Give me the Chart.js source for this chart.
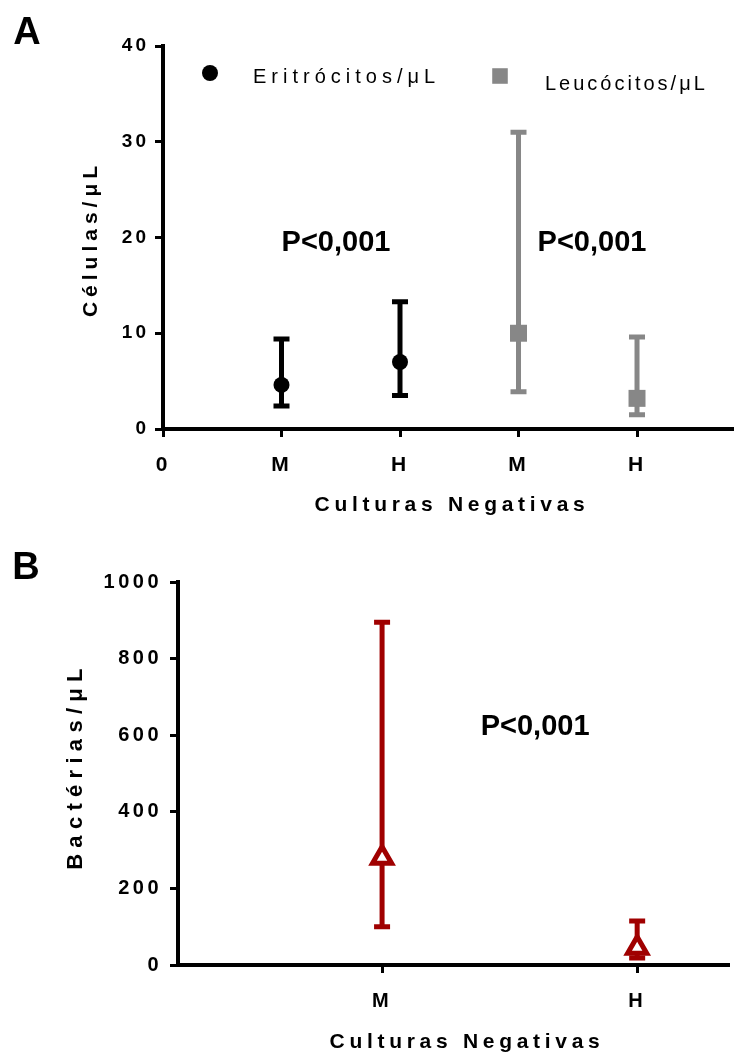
<!DOCTYPE html>
<html>
<head>
<meta charset="utf-8">
<script src="https://cdn.jsdelivr.net/npm/chart.js@4.4.1/dist/chart.umd.min.js"></script>
<style>
  html, body { margin: 0; padding: 0; background: #fff; }
  #wrap { position: relative; width: 745px; height: 1054px; }
  canvas { position: absolute; left: 0; }
  #graficoA { top: 0; }
  #graficoB { top: 535px; }
</style>
</head>
<body>
<div id="wrap">
  <canvas id="graficoA" width="745" height="535"></canvas>
  <canvas id="graficoB" width="745" height="519"></canvas>
</div>
<script>
// --- dados painel A ---
const categoriasA = ['0', 'M', 'H', 'M', 'H'];
const posEritro = [1, 2];
const eritroMedia = [4.6, 7.0];
const eritroMin = [2.4, 3.5];
const eritroMax = [9.4, 13.3];
const posLeuco = [3, 4];
const leucoMedia = [10.0, 3.2];
const leucoMin = [3.9, 1.5];
const leucoMax = [31.0, 9.6];

// --- dados painel B ---
const categoriasB = ['', 'M', 'H'];
const posBact = [1, 2];
const bactMedia = [280, 45];
const bactMin = [100, 18];
const bactMax = [895, 115];

const FONTE = "'Liberation Sans', Arial, sans-serif";
const VERMELHO = '#a00000';
const CINZA = '#878787';

Chart.defaults.color = '#000';
Chart.defaults.font.family = FONTE;

function pontos(xs, med, lo, hi) {
    return xs.map((x, i) => ({ x: x, y: med[i], lo: lo[i], hi: hi[i] }));
}

function texto(ctx, s, x, y, font, spacing, align, rot) {
    ctx.save();
    ctx.translate(x, y);
    if (rot) ctx.rotate(rot);
    ctx.font = font;
    ctx.letterSpacing = spacing + 'px';
    ctx.textAlign = align || 'center';
    ctx.textBaseline = 'middle';
    ctx.fillStyle = '#000';
    ctx.fillText(s, 0, 0);
    ctx.restore();
}

// barras de erro (min - max) desenhadas pelas escalas
const barrasErro = {
    id: 'barrasErro',
    beforeDatasetsDraw(chart) {
        const ctx = chart.ctx;
        const xs = chart.scales.x, ys = chart.scales.y;
        chart.data.datasets.forEach(ds => {
            ctx.save();
            ctx.strokeStyle = ds.corErro;
            ctx.lineWidth = ds.larguraErro;
            const cap = ds.capErro;
            ds.data.forEach(p => {
                const x = xs.getPixelForValue(p.x);
                const y1 = ys.getPixelForValue(p.lo);
                const y2 = ys.getPixelForValue(p.hi);
                ctx.beginPath();
                ctx.moveTo(x, y1); ctx.lineTo(x, y2);
                ctx.moveTo(x - cap, y1); ctx.lineTo(x + cap, y1);
                ctx.moveTo(x - cap, y2); ctx.lineTo(x + cap, y2);
                ctx.stroke();
            });
            ctx.restore();
        });
    }
};

// espacamento das letras nos ticks + textos extras
const textos = {
    id: 'textos',
    beforeDraw(chart, args, opts) {
        chart.ctx.letterSpacing = (opts.espacoTicks || 0) + 'px';
    },
    afterDraw(chart, args, opts) {
        const ctx = chart.ctx;
        const xs = chart.scales.x, ys = chart.scales.y;
        (opts.itens || []).forEach(t => {
            let x = t.x, y = t.y;
            if (t.dados) { x = xs.getPixelForValue(t.x); y = ys.getPixelForValue(t.y); }
            texto(ctx, t.s, x, y, t.font, t.sp || 0, t.align, t.rot);
        });
        (opts.legenda || []).forEach(l => {
            const ds = chart.data.datasets[l.ds];
            ctx.save();
            ctx.fillStyle = ds.backgroundColor;
            ctx.strokeStyle = ds.borderColor;
            Chart.helpers.drawPoint(ctx, { pointStyle: ds.pointStyle, radius: l.r, rotation: 0, borderWidth: 0 }, l.mx, l.my);
            ctx.restore();
            texto(ctx, ds.label, l.tx, l.ty, '20px ' + FONTE, l.sp, 'left');
        });
    }
};

function eixoX(cats, posTicks, min, max, altura, tam) {
    return {
        type: 'linear', min: min, max: max,
        afterBuildTicks: s => { s.ticks = posTicks.map(v => ({ value: v })); },
        afterFit: s => { s.height = altura; s.paddingLeft = 0; s.paddingRight = 0; },
        ticks: {
            autoSkip: false, maxRotation: 0, padding: 16,
            font: { size: tam, weight: 'bold' },
            callback: v => cats[v]
        },
        grid: { drawOnChartArea: false, drawTicks: true, tickLength: 8, tickWidth: 3, tickColor: '#000' },
        border: { display: true, color: '#000', width: 4 }
    };
}

function eixoY(min, max, passo, largura, tam, pad) {
    return {
        min: min, max: max,
        afterFit: s => { s.width = largura; },
        ticks: { stepSize: passo, padding: pad, font: { size: tam, weight: 'bold' }, callback: v => String(v) },
        grid: { drawOnChartArea: false, drawTicks: true, tickLength: 8, tickWidth: 3, tickColor: '#000' },
        border: { display: true, color: '#000', width: 4 }
    };
}

// ---------- painel A ----------
new Chart(document.getElementById('graficoA'), {
    type: 'scatter',
    data: {
        datasets: [
            {
                label: 'Eritrócitos/μL',
                data: pontos(posEritro, eritroMedia, eritroMin, eritroMax),
                pointStyle: 'circle', pointRadius: 8,
                backgroundColor: '#000', borderColor: '#000', borderWidth: 0,
                corErro: '#000', larguraErro: 5, capErro: 8
            },
            {
                label: 'Leucócitos/μL',
                data: pontos(posLeuco, leucoMedia, leucoMin, leucoMax),
                pointStyle: 'rect', pointRadius: 12,
                backgroundColor: CINZA, borderColor: CINZA, borderWidth: 0,
                corErro: CINZA, larguraErro: 5, capErro: 8
            }
        ]
    },
    options: {
        responsive: false,
        animation: false,
        events: [],
        layout: { padding: { top: 46, right: 7, left: 0, bottom: 0 } },
        scales: {
            x: eixoX(categoriasA, [0, 1, 2, 3, 4], 0, 4.81, 106, 21),
            y: eixoY(0, 40, 10, 163, 19, 6)
        },
        plugins: {
            legend: { display: false },
            tooltip: { enabled: false },
            textos: {
                espacoTicks: 3,
                itens: [
                    { s: 'A', x: 27, y: 34, font: 'bold 38px ' + FONTE },
                    { s: 'P<0,001', x: 1.46, y: 19.4, dados: true, font: 'bold 29px ' + FONTE },
                    { s: 'P<0,001', x: 3.62, y: 19.4, dados: true, font: 'bold 29px ' + FONTE },
                    { s: 'Culturas Negativas', x: 452, y: 505, font: 'bold 21px ' + FONTE, sp: 4.7 },
                    { s: 'Células/μL', x: 91, y: 239, font: 'bold 21px ' + FONTE, sp: 5, rot: -Math.PI / 2 }
                ],
                legenda: [
                    { ds: 0, mx: 210, my: 73, r: 8, tx: 253, ty: 77, sp: 5 },
                    { ds: 1, mx: 500, my: 76, r: 11, tx: 545, ty: 84, sp: 3 }
                ]
            }
        }
    },
    plugins: [barrasErro, textos]
});

// ---------- painel B ----------
new Chart(document.getElementById('graficoB'), {
    type: 'scatter',
    data: {
        datasets: [
            {
                label: 'Bactérias/μL',
                data: pontos(posBact, bactMedia, bactMin, bactMax),
                pointStyle: 'triangle', pointRadius: 11,
                backgroundColor: '#fff', borderColor: VERMELHO, borderWidth: 5,
                corErro: VERMELHO, larguraErro: 5, capErro: 8
            }
        ]
    },
    options: {
        responsive: false,
        animation: false,
        events: [],
        layout: { padding: { top: 47, right: 3, left: 0, bottom: 0 } },
        scales: {
            x: eixoX(categoriasB, [1, 2], 0.2, 2.36, 89, 20),
            y: eixoY(0, 1000, 200, 178, 20, 8)
        },
        plugins: {
            legend: { display: false },
            tooltip: { enabled: false },
            textos: {
                espacoTicks: 3.5,
                itens: [
                    { s: 'B', x: 26, y: 34, font: 'bold 38px ' + FONTE },
                    { s: 'P<0,001', x: 1.6, y: 621, dados: true, font: 'bold 29px ' + FONTE },
                    { s: 'Culturas Negativas', x: 467, y: 507, font: 'bold 21px ' + FONTE, sp: 4.7 },
                    { s: 'Bactérias/μL', x: 76, y: 231, font: 'bold 22px ' + FONTE, sp: 6.3, rot: -Math.PI / 2 }
                ]
            }
        }
    },
    plugins: [barrasErro, textos]
});
</script>
</body>
</html>
